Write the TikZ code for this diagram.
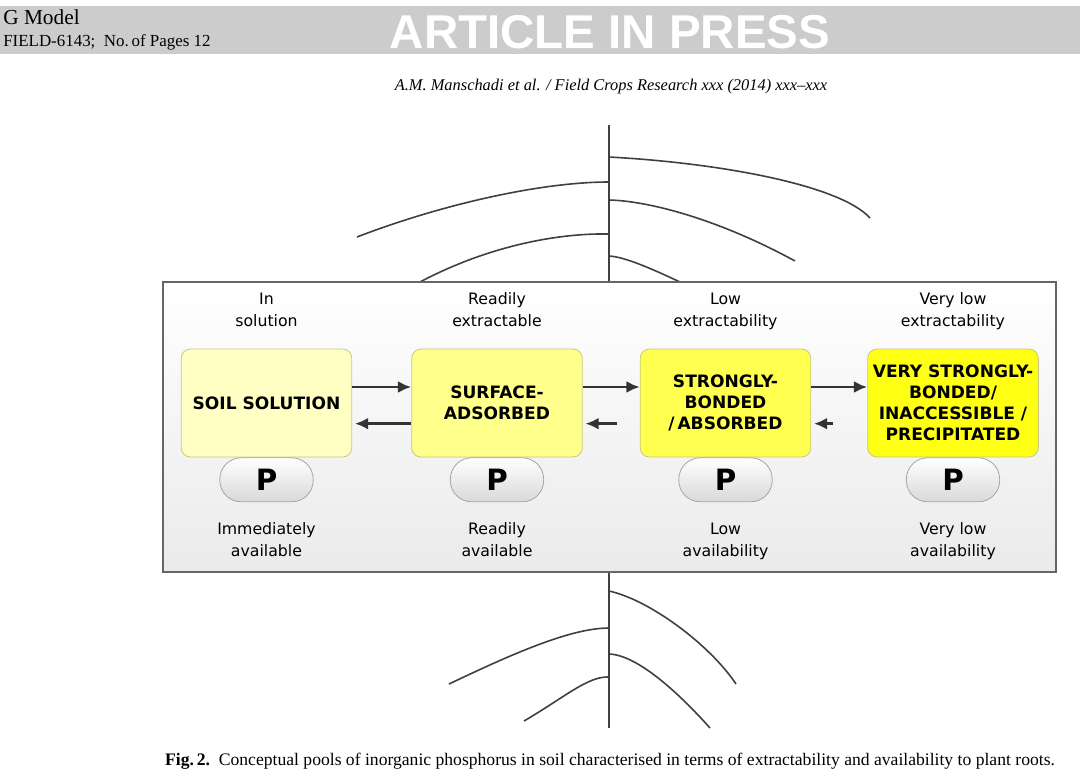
\documentclass[tikz,border=0pt]{standalone}
\usepackage{fontspec}
\setmainfont{Liberation Serif}
\newfontfamily\dvfont{DejaVu Sans}
\newfontfamily\hdrfont{Liberation Sans}
\usetikzlibrary{arrows.meta,positioning}
\definecolor{rootgray}{RGB}{64,64,64}
\definecolor{poolA}{RGB}{255,255,196}
\definecolor{poolB}{RGB}{255,255,140}
\definecolor{poolC}{RGB}{255,255,80}
\definecolor{poolD}{RGB}{255,255,20}
\definecolor{poolline}{RGB}{200,200,130}
\definecolor{bandgray}{RGB}{204,204,204}
\newcommand{\twolines}[2]{#1\strut\\#2\strut}
\tikzset{
  pool/.style={draw=poolline, line width=0.6pt, rounded corners=7pt,
    minimum width=128pt, minimum height=81pt, align=center,
    font=\dvfont\bfseries\fontsize{12.8}{15.8}\selectfont},
  ppill/.style={draw=black!35, line width=0.6pt, rounded corners=16pt,
    top color=white, bottom color=black!15,
    minimum width=70pt, minimum height=33pt,
    font=\dvfont\bfseries\fontsize{22}{22}\selectfont},
  tag/.style={align=center, font=\dvfont\fontsize{11.8}{16.5}\selectfont},
  flow/.style={-{Latex[length=10pt,width=9pt]}, line width=2.2pt, draw=black!80},
  root/.style={draw=rootgray, line width=1.2pt}
}
\begin{document}
\begin{tikzpicture}[x=0.75pt,y=-0.75pt]
  \useasboundingbox (0,0) rectangle (1080,774);
  % page header
  \fill[bandgray] (0,6) rectangle (1080,54);
  \node[anchor=west, inner sep=0pt, font=\fontsize{16}{16}\selectfont] (gmodel) at (3,17) {G Model};
  \node[anchor=west, inner sep=0pt, font=\fontsize{12.7}{12.7}\selectfont] (field) at (3,42) {FIELD-6143;\ \ No.\,of Pages 12};
  \node[inner sep=0pt, text=white, font=\hdrfont\bfseries\fontsize{35.6}{35.6}\selectfont] (press) at (610,32) {ARTICLE IN PRESS};
  \node[inner sep=0pt, font=\itshape\fontsize{12.3}{12.3}\selectfont] (journal) at (611,87) {A.M. Manschadi et al. / Field Crops Research xxx (2014) xxx--xxx};
  % the root
  \draw[root] (609,125) -- (609,728);
  \draw[root] (609,157) .. controls (720,163) and (840,185) .. (870,218);
  \draw[root] (609,182) .. controls (540,182) and (440,205) .. (357,237);
  \draw[root] (609,200) .. controls (650,201) and (720,220) .. (795,261);
  \draw[root] (609,234) .. controls (560,233) and (490,245) .. (420,282);
  \draw[root] (609,256) .. controls (625,257) and (650,268) .. (680,282);
  \draw[root] (609,591) .. controls (650,600) and (710,645) .. (736,684);
  \draw[root] (609,628) .. controls (570,628) and (510,655) .. (449,684);
  \draw[root] (609,654) .. controls (640,655) and (685,700) .. (710,728);
  \draw[root] (609,677) .. controls (588,676) and (565,697) .. (524,721);
  % soil panel
  \shade[top color=white, bottom color=black!8] (163,282) rectangle (1056,572);
  \draw[black!60, line width=1.1pt] (163,282) rectangle (1056,572);
  % pools
  \node[pool, fill=poolA] (s1) at (266.5,403) {SOIL SOLUTION};
  \node[pool, fill=poolB] (s2) at (497,403) {SURFACE-\\ADSORBED};
  \node[pool, fill=poolC] (s3) at (725.5,403) {STRONGLY-\\BONDED\\/\,ABSORBED};
  \node[pool, fill=poolD] (s4) at (953,403) {VERY STRONGLY-\\BONDED/\\INACCESSIBLE /\\PRECIPITATED};
  \foreach \i in {1,2,3,4}
    \node[ppill, below=0pt of s\i] (p\i) {P};
  % labels
  \node[tag] (e1) at (266.5,311) {\twolines{In}{solution}};
  \node[tag] (e2) at (497,311) {\twolines{Readily}{extractable}};
  \node[tag] (e3) at (725.5,311) {\twolines{Low}{extractability}};
  \node[tag] (e4) at (953,311) {\twolines{Very low}{extractability}};
  \node[tag] (a1) at (266.5,541) {\twolines{Immediately}{available}};
  \node[tag] (a2) at (497,541) {\twolines{Readily}{available}};
  \node[tag] (a3) at (725.5,541) {\twolines{Low}{availability}};
  \node[tag] (a4) at (953,541) {\twolines{Very low}{availability}};
  % exchanges
  \draw[flow] ([yshift=12pt]s1.east) -- ([yshift=12pt]s2.west);
  \draw[flow] ([yshift=12pt]s2.east) -- ([yshift=12pt]s3.west);
  \draw[flow] ([yshift=12pt]s3.east) -- ([yshift=12pt]s4.west);
  \draw[flow] ([yshift=-15.5pt]s2.west) -- ([yshift=-15.5pt,xshift=2pt]s1.east);
  \draw[flow] ([yshift=-15.5pt,xshift=26pt]s2.east) -- ([yshift=-15.5pt,xshift=2pt]s2.east);
  \draw[flow] ([yshift=-15.5pt,xshift=16pt]s3.east) -- ([yshift=-15.5pt,xshift=2pt]s3.east);
  % caption
  \node[inner sep=0pt, font=\fontsize{13.2}{13.2}\selectfont] (caption) at (610,761)
    {\textbf{Fig.\,2.}\ \ Conceptual pools of inorganic phosphorus in soil characterised in terms of extractability and availability to plant roots.};
\end{tikzpicture}
\end{document}
